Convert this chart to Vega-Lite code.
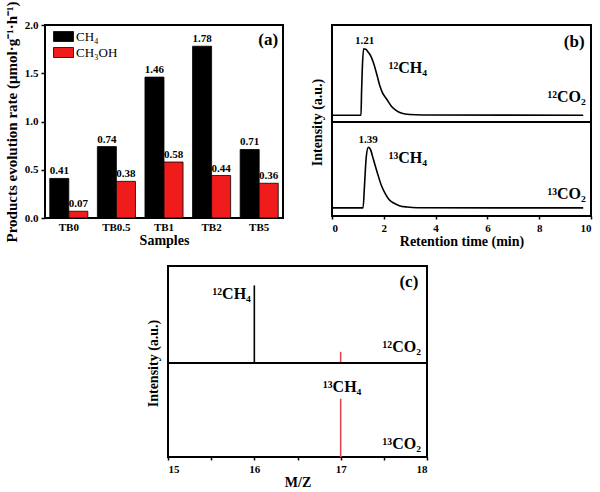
{
  "$schema": "https://vega.github.io/schema/vega-lite/v6.json",
  "padding": {"left": 3, "top": 0, "right": 0, "bottom": 0},
  "background": "white",
  "config": {
    "font": "Liberation Serif",
    "view": {"stroke": "black", "strokeWidth": 2},
    "axis": {"labelFont": "Liberation Serif", "labelFontSize": 11, "labelFontWeight": "bold", "labelColor": "black", "titleFont": "Liberation Serif", "titleFontSize": 14, "titleFontWeight": "bold", "titleColor": "black", "domain": false, "grid": false, "tickColor": "black", "tickWidth": 1.5, "tickSize": 4, "labelPadding": 3},
    "text": {"font": "Liberation Serif", "color": "black"}
  },
  "resolve": {"scale": {"color": "independent"}},
  "datasets": {
    "rates": [
      {"sample": "TB0", "product": "CH₄", "rate": 0.41},
      {"sample": "TB0", "product": "CH₃OH", "rate": 0.07},
      {"sample": "TB0.5", "product": "CH₄", "rate": 0.74},
      {"sample": "TB0.5", "product": "CH₃OH", "rate": 0.38},
      {"sample": "TB1", "product": "CH₄", "rate": 1.46},
      {"sample": "TB1", "product": "CH₃OH", "rate": 0.58},
      {"sample": "TB2", "product": "CH₄", "rate": 1.78},
      {"sample": "TB2", "product": "CH₃OH", "rate": 0.44},
      {"sample": "TB5", "product": "CH₄", "rate": 0.71},
      {"sample": "TB5", "product": "CH₃OH", "rate": 0.36}
    ],
    "gc": [
      {"iso": "12C", "time": 0, "intensity": 0.07},
      {"iso": "12C", "time": 1.12, "intensity": 0.07},
      {"iso": "12C", "time": 1.14, "intensity": 0.3},
      {"iso": "12C", "time": 1.17, "intensity": 0.55},
      {"iso": "12C", "time": 1.22, "intensity": 0.755},
      {"iso": "12C", "time": 1.3, "intensity": 0.75},
      {"iso": "12C", "time": 1.4, "intensity": 0.72},
      {"iso": "12C", "time": 1.5, "intensity": 0.68},
      {"iso": "12C", "time": 1.6, "intensity": 0.61},
      {"iso": "12C", "time": 1.75, "intensity": 0.47},
      {"iso": "12C", "time": 1.85, "intensity": 0.37},
      {"iso": "12C", "time": 1.95, "intensity": 0.3},
      {"iso": "12C", "time": 2.1, "intensity": 0.24},
      {"iso": "12C", "time": 2.3, "intensity": 0.16},
      {"iso": "12C", "time": 2.5, "intensity": 0.115},
      {"iso": "12C", "time": 2.7, "intensity": 0.09},
      {"iso": "12C", "time": 3.0, "intensity": 0.077},
      {"iso": "12C", "time": 3.5, "intensity": 0.072},
      {"iso": "12C", "time": 9.7, "intensity": 0.07},
      {"iso": "13C", "time": 0, "intensity": 0.086},
      {"iso": "13C", "time": 1.2, "intensity": 0.086},
      {"iso": "13C", "time": 1.25, "intensity": 0.3},
      {"iso": "13C", "time": 1.32, "intensity": 0.62},
      {"iso": "13C", "time": 1.4, "intensity": 0.73},
      {"iso": "13C", "time": 1.48, "intensity": 0.71},
      {"iso": "13C", "time": 1.6, "intensity": 0.6},
      {"iso": "13C", "time": 1.75, "intensity": 0.46},
      {"iso": "13C", "time": 1.9, "intensity": 0.33},
      {"iso": "13C", "time": 2.05, "intensity": 0.24},
      {"iso": "13C", "time": 2.2, "intensity": 0.175},
      {"iso": "13C", "time": 2.4, "intensity": 0.135},
      {"iso": "13C", "time": 2.6, "intensity": 0.11},
      {"iso": "13C", "time": 2.9, "intensity": 0.095},
      {"iso": "13C", "time": 3.3, "intensity": 0.088},
      {"iso": "13C", "time": 9.7, "intensity": 0.086}
    ],
    "ms": [
      {"iso": "12C", "mz": 16, "intensity": 0.8},
      {"iso": "12C", "mz": 17, "intensity": 0.115},
      {"iso": "13C", "mz": 17, "intensity": 0.62}
    ]
  },
  "vconcat": [
    {
      "hconcat": [
        {
          "width": 238,
          "height": 193,
          "data": {"name": "rates"},
          "layer": [
            {
              "mark": {"type": "bar", "stroke": "black", "strokeWidth": 0.8},
              "encoding": {
                "x": {"field": "sample", "type": "nominal", "sort": ["TB0", "TB0.5", "TB1", "TB2", "TB5"], "scale": {"paddingInner": 0.2, "paddingOuter": 0.1}, "axis": {"title": "Samples", "labelAngle": 0, "ticks": false, "titlePadding": 1}},
                "xOffset": {"field": "product", "type": "nominal", "sort": ["CH₄", "CH₃OH"]},
                "y": {"field": "rate", "type": "quantitative", "scale": {"domain": [0, 2]}, "axis": {"title": "Products evolution rate (μmol·g⁻¹·h⁻¹)", "titleFontSize": 15, "values": [0, 0.5, 1, 1.5, 2], "format": ".1f", "titlePadding": 5}},
                "color": {"field": "product", "type": "nominal", "sort": ["CH₄", "CH₃OH"], "scale": {"domain": ["CH₄", "CH₃OH"], "range": ["#000000", "#f01c1c"]}, "legend": {"title": null, "orient": "none", "legendX": 12, "legendY": 5, "padding": 0, "symbolType": "M-2,-1H2V1H-2Z", "symbolSize": 100, "symbolStrokeColor": "black", "symbolStrokeWidth": 0.8, "symbolOpacity": 1, "labelFont": "Liberation Serif", "labelFontSize": 13, "labelColor": "black", "rowPadding": 1, "labelOffset": 6}}
              }
            },
            {
              "mark": {"type": "text", "fontWeight": "bold", "fontSize": 11, "baseline": "bottom", "dy": -2},
              "encoding": {
                "x": {"field": "sample", "type": "nominal", "sort": ["TB0", "TB0.5", "TB1", "TB2", "TB5"]},
                "xOffset": {"field": "product", "type": "nominal", "sort": ["CH₄", "CH₃OH"]},
                "y": {"field": "rate", "type": "quantitative"},
                "text": {"field": "rate", "type": "quantitative", "format": ".2f"}
              }
            },
            {
              "data": {"values": [{"s": "TB5", "v": 1.84, "label": "(a)"}]},
              "mark": {"type": "text", "fontWeight": "bold", "fontSize": 17, "baseline": "middle", "dx": 9},
              "encoding": {
                "x": {"field": "s", "type": "nominal"},
                "y": {"field": "v", "type": "quantitative"},
                "text": {"field": "label"}
              }
            }
          ]
        },
        {
          "bounds": "flush",
          "spacing": 0,
          "vconcat": [
            {
              "width": 259,
              "height": 97,
              "layer": [
                {
                  "data": {"name": "gc"},
                  "transform": [{"filter": "datum.iso === '12C'"}],
                  "mark": {"type": "line", "interpolate": "monotone", "color": "black", "strokeWidth": 1.6},
                  "encoding": {
                    "x": {"field": "time", "type": "quantitative", "scale": {"domain": [0, 10]}, "axis": null},
                    "y": {"field": "intensity", "type": "quantitative", "scale": {"domain": [0, 1]}, "axis": {"title": "Intensity (a.u.)", "labels": false, "ticks": false, "titleY": 97, "titlePadding": 8}}
                  }
                },
                {
                  "data": {"values": [{"x": 1.26, "y": 0.84, "label": "1.21"}]},
                  "mark": {"type": "text", "fontWeight": "bold", "fontSize": 11, "baseline": "middle"},
                  "encoding": {"x": {"field": "x", "type": "quantitative"}, "y": {"field": "y", "type": "quantitative"}, "text": {"field": "label"}}
                },
                {
                  "data": {"values": [{"x": 3.67, "y": 0.56, "label": "¹²CH₄"}, {"x": 9.8, "y": 0.255, "label": "¹²CO₂"}]},
                  "mark": {"type": "text", "fontWeight": "bold", "fontSize": 16, "baseline": "middle", "align": "right"},
                  "encoding": {"x": {"field": "x", "type": "quantitative"}, "y": {"field": "y", "type": "quantitative"}, "text": {"field": "label"}}
                },
                {
                  "data": {"values": [{"x": 9.35, "y": 0.82, "label": "(b)"}]},
                  "mark": {"type": "text", "fontWeight": "bold", "fontSize": 17, "baseline": "middle"},
                  "encoding": {"x": {"field": "x", "type": "quantitative"}, "y": {"field": "y", "type": "quantitative"}, "text": {"field": "label"}}
                }
              ]
            },
            {
              "width": 259,
              "height": 94,
              "layer": [
                {
                  "data": {"name": "gc"},
                  "transform": [{"filter": "datum.iso === '13C'"}],
                  "mark": {"type": "line", "interpolate": "monotone", "color": "black", "strokeWidth": 1.6},
                  "encoding": {
                    "x": {"field": "time", "type": "quantitative", "scale": {"domain": [0, 10]}, "axis": {"title": "Retention time (min)", "values": [0, 1, 2, 3, 4, 5, 6, 7, 8, 9, 10], "labelExpr": "datum.value % 2 === 0 ? datum.label : ''", "tickSize": 3, "titlePadding": 1}},
                    "y": {"field": "intensity", "type": "quantitative", "scale": {"domain": [0, 1]}, "axis": {"title": null, "labels": false, "ticks": false}}
                  }
                },
                {
                  "data": {"values": [{"x": 1.39, "y": 0.81, "label": "1.39"}]},
                  "mark": {"type": "text", "fontWeight": "bold", "fontSize": 11, "baseline": "middle"},
                  "encoding": {"x": {"field": "x", "type": "quantitative"}, "y": {"field": "y", "type": "quantitative"}, "text": {"field": "label"}}
                },
                {
                  "data": {"values": [{"x": 3.67, "y": 0.62, "label": "¹³CH₄"}, {"x": 9.8, "y": 0.23, "label": "¹³CO₂"}]},
                  "mark": {"type": "text", "fontWeight": "bold", "fontSize": 16, "baseline": "middle", "align": "right"},
                  "encoding": {"x": {"field": "x", "type": "quantitative"}, "y": {"field": "y", "type": "quantitative"}, "text": {"field": "label"}}
                }
              ]
            }
          ]
        }
      ],
      "spacing": 25
    },
    {
      "hconcat": [
        {
          "width": 100,
          "height": 10,
          "view": {"stroke": null},
          "data": {"values": []},
          "mark": "point",
          "encoding": {}
        },
        {
          "bounds": "flush",
          "spacing": 0,
          "vconcat": [
            {
              "width": 259,
              "height": 97,
              "layer": [
                {
                  "data": {"name": "ms"},
                  "transform": [{"filter": "datum.iso === '12C'"}],
                  "mark": {"type": "rule", "strokeWidth": 1.6},
                  "encoding": {
                    "x": {"field": "mz", "type": "quantitative", "scale": {"domain": [15, 18]}, "axis": null},
                    "y": {"field": "intensity", "type": "quantitative", "scale": {"domain": [0, 1]}, "axis": {"title": "Intensity (a.u.)", "labels": false, "ticks": false, "titleY": 97, "titlePadding": 8}},
                    "y2": {"datum": 0},
                    "color": {"field": "mz", "type": "nominal", "scale": {"domain": [16, 17], "range": ["#000000", "#e5474f"]}, "legend": null}
                  }
                },
                {
                  "data": {"values": [{"x": 15.96, "y": 0.71, "label": "¹²CH₄"}, {"x": 17.93, "y": 0.16, "label": "¹²CO₂"}]},
                  "mark": {"type": "text", "fontWeight": "bold", "fontSize": 16, "baseline": "middle", "align": "right"},
                  "encoding": {"x": {"field": "x", "type": "quantitative"}, "y": {"field": "y", "type": "quantitative"}, "text": {"field": "label"}}
                },
                {
                  "data": {"values": [{"x": 17.79, "y": 0.83, "label": "(c)"}]},
                  "mark": {"type": "text", "fontWeight": "bold", "fontSize": 17, "baseline": "middle"},
                  "encoding": {"x": {"field": "x", "type": "quantitative"}, "y": {"field": "y", "type": "quantitative"}, "text": {"field": "label"}}
                }
              ]
            },
            {
              "width": 259,
              "height": 94,
              "layer": [
                {
                  "data": {"name": "ms"},
                  "transform": [{"filter": "datum.iso === '13C'"}],
                  "mark": {"type": "rule", "strokeWidth": 1.6},
                  "encoding": {
                    "x": {"field": "mz", "type": "quantitative", "scale": {"domain": [15, 18]}, "axis": {"title": "M/Z", "values": [15, 15.5, 16, 16.5, 17, 17.5, 18], "labelExpr": "datum.value % 1 === 0 ? format(datum.value, 'd') : ''", "tickSize": 3, "titlePadding": 1}},
                    "y": {"field": "intensity", "type": "quantitative", "scale": {"domain": [0, 1]}, "axis": {"title": null, "labels": false, "ticks": false}},
                    "y2": {"datum": 0},
                    "color": {"field": "mz", "type": "nominal", "scale": {"domain": [16, 17], "range": ["#000000", "#e5474f"]}, "legend": null}
                  }
                },
                {
                  "data": {"values": [{"x": 17.24, "y": 0.74, "label": "¹³CH₄"}, {"x": 17.93, "y": 0.14, "label": "¹³CO₂"}]},
                  "mark": {"type": "text", "fontWeight": "bold", "fontSize": 16, "baseline": "middle", "align": "right"},
                  "encoding": {"x": {"field": "x", "type": "quantitative"}, "y": {"field": "y", "type": "quantitative"}, "text": {"field": "label"}}
                }
              ]
            }
          ]
        }
      ],
      "spacing": 0
    }
  ],
  "spacing": 16
}
